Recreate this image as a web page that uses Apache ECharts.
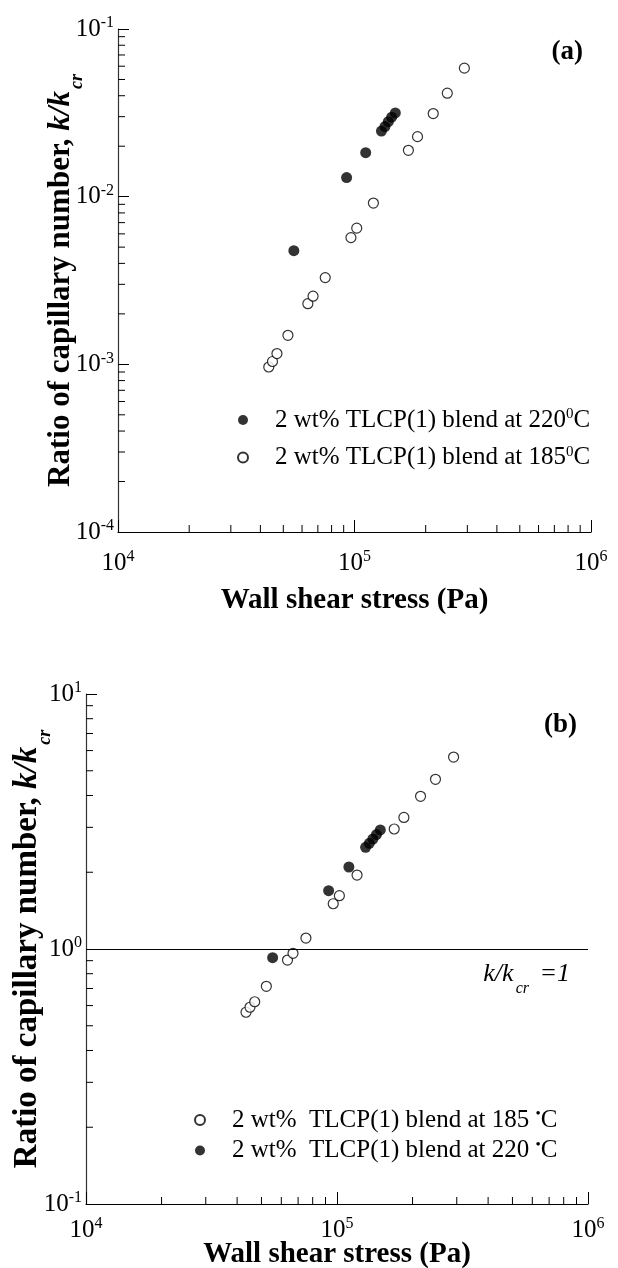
<!DOCTYPE html>
<html>
<head>
<meta charset="utf-8">
<script src="https://cdn.jsdelivr.net/npm/echarts@6/dist/echarts.min.js"></script>
<style>
html,body{margin:0;padding:0;background:#fff;}
#c{width:618px;height:1268px;}
</style>
</head>
<body>
<div id="c"></div>
<script>
// ---- data ----
// wall shear stress (Pa)
const tau185 = [43400, 45000, 47000, 52300, 63500, 66800, 75200, 96600, 102200, 120200, 169000, 184700, 215200, 246800, 291400];
const tau220 = [55400, 92600, 111500, 130000, 134500, 139000, 143600, 148800];
// panel (a): ratio of capillary number
const a185 = [0.000964, 0.00104, 0.00116, 0.00149, 0.00230, 0.00255, 0.00329, 0.00570, 0.00649, 0.00916, 0.0189, 0.0228, 0.0313, 0.0414, 0.0584];
const a220 = [0.00476, 0.0130, 0.0183, 0.0246, 0.0262, 0.0280, 0.0298, 0.0316];
// panel (b): k/k_cr
const b185 = [0.565, 0.591, 0.621, 0.714, 0.905, 0.962, 1.104, 1.505, 1.618, 1.95, 2.955, 3.28, 3.97, 4.63, 5.66];
const b220 = [0.925, 1.694, 2.097, 2.505, 2.597, 2.70, 2.81, 2.93];
// axis ranges / tick decades
const xRange = [1e4, 1e6];
const yRangeA = [1e-4, 1e-1];
const yRangeB = [1e-1, 1e1];
const legendA = ['2 wt% TLCP(1) blend at 220', '2 wt% TLCP(1) blend at 185'];
const legendB = ['2 wt%  TLCP(1) blend at 185', '2 wt%  TLCP(1) blend at 220'];

const FONT = "'Liberation Serif', 'Times New Roman', serif";

function pairs(xs, ys) { return xs.map((x, i) => [x, ys[i]]); }
function minorValues(lo, hi) {
  const out = [];
  for (let d = lo; d < hi * 0.999; d *= 10) {
    for (let k = 2; k <= 9; k++) out.push(+(d * k).toPrecision(6));
  }
  return out;
}

const chart = echarts.init(document.getElementById('c'), null, {renderer: 'canvas'});

const supLabel = v => '{b|10}{s|' + Math.round(Math.log10(v)) + '}';
const labelRich = {
  b: {fontFamily: FONT, fontSize: 25, color: '#000', lineHeight: 28},
  s: {fontFamily: FONT, fontSize: 16, color: '#000', lineHeight: 14, verticalAlign: 'top'}
};

function xAxisCfg(grid, margin, gap) {
  return {
    gridIndex: grid, type: 'log', logBase: 10, min: xRange[0], max: xRange[1],
    axisLine: {show: true, lineStyle: {color: '#000', width: 1.2}},
    axisTick: {show: true, inside: true, length: 12, lineStyle: {color: '#000'}},
    splitLine: {show: false},
    axisLabel: {formatter: supLabel, rich: labelRich, margin: margin},
    name: 'Wall shear stress (Pa)', nameLocation: 'middle', nameGap: gap, nameMoveOverlap: false,
    nameTextStyle: {fontFamily: FONT, fontWeight: 'bold', fontSize: 29, color: '#000'}
  };
}
function yAxisCfg(grid, range, gap, fs) {
  return {
    gridIndex: grid, type: 'log', logBase: 10, min: range[0], max: range[1],
    axisLine: {show: true, lineStyle: {color: '#333', width: 1.2}},
    axisTick: {show: true, inside: true, length: 11, lineStyle: {color: '#000'}},
    splitLine: {show: false},
    axisLabel: {formatter: supLabel, rich: labelRich, margin: 4},
    name: '{t|Ratio of capillary number, }{i|k/k}{u|cr}',
    nameLocation: 'middle', nameGap: gap, nameRotate: 90, nameMoveOverlap: false,
    nameTextStyle: {
      rich: {
        t: {fontFamily: FONT, fontWeight: 'bold', fontSize: fs, color: '#000', lineHeight: fs + 4},
        i: {fontFamily: FONT, fontWeight: 'bold', fontStyle: 'italic', fontSize: fs, color: '#000', lineHeight: fs + 4},
        u: {fontFamily: FONT, fontWeight: 'bold', fontStyle: 'italic', fontSize: 18, color: '#000', lineHeight: 20, verticalAlign: 'bottom', padding: [0, 0, -8, 2]}
      }
    }
  };
}

function tickSeries(xi, yi, data, dir, len) {
  return {
    type: 'custom', xAxisIndex: xi, yAxisIndex: yi, silent: true, z: 5,
    data: data,
    renderItem: function (params, api) {
      const p = api.coord([api.value(0), api.value(1)]);
      const shape = dir === 'x'
        ? {x1: p[0], y1: p[1], x2: p[0], y2: p[1] - len}
        : {x1: p[0], y1: p[1], x2: p[0] + len, y2: p[1]};
      return {type: 'line', shape: shape, style: {stroke: '#000', lineWidth: 1}};
    }
  };
}

const openStyle = {color: '#fff', borderColor: '#000', borderWidth: 1.2};
const fillStyle = {color: '#000', borderColor: '#000', borderWidth: 0};

const names = {
  a220: '{t|' + legendA[0] + '}{s|0}{t|C}',
  a185: '{t|' + legendA[1] + '}{s|0}{t|C}',
  b185: '{t|' + legendB[0] + ' }{s|•}{t|C}',
  b220: '{t|' + legendB[1] + ' }{s|•}{t|C}'
};
const legendRich = {
  t: {fontFamily: FONT, fontSize: 25, color: '#000', lineHeight: 26},
  s: {fontFamily: FONT, fontSize: 15, color: '#000', lineHeight: 12, verticalAlign: 'top'}
};

const option = {
  animation: false,
  backgroundColor: '#fff',
  title: [
    {text: '(a)', right: 30, top: 34, textStyle: {fontFamily: FONT, fontWeight: 'bold', fontSize: 27, color: '#000'}},
    {text: '(b)', right: 36, top: 707, textStyle: {fontFamily: FONT, fontWeight: 'bold', fontSize: 27, color: '#000'}}
  ],
  grid: [
    {left: 118, right: 27, top: 29, height: 503, outerBoundsMode: 'none', containLabel: false},
    {left: 86, right: 30, top: 694, height: 510, outerBoundsMode: 'none', containLabel: false}
  ],
  xAxis: [xAxisCfg(0, 17, 54), xAxisCfg(1, 12, 36)],
  yAxis: [yAxisCfg(0, yRangeA, 40, 31), yAxisCfg(1, yRangeB, 40, 33)],
  legend: [
    {data: ['a220', 'a185'], orient: 'vertical', left: 232, top: 402, itemWidth: 10, itemHeight: 10, itemGap: 12,
     formatter: n => names[n], textStyle: {rich: legendRich, padding: [0, 0, 0, 22]}, selectedMode: false},
    {data: ['b185', 'b220'], orient: 'vertical', left: 189, top: 1102, itemWidth: 10, itemHeight: 10, itemGap: 5,
     formatter: n => names[n], textStyle: {rich: legendRich, padding: [0, 0, 0, 22]}, selectedMode: false}
  ],
  series: [
    {name: 'a220', type: 'scatter', xAxisIndex: 0, yAxisIndex: 0, symbol: 'circle', symbolSize: 11, itemStyle: fillStyle, data: pairs(tau220, a220), z: 3},
    {name: 'a185', type: 'scatter', xAxisIndex: 0, yAxisIndex: 0, symbol: 'circle', symbolSize: 10, itemStyle: openStyle, data: pairs(tau185, a185), z: 3},
    {name: 'b185', type: 'scatter', xAxisIndex: 1, yAxisIndex: 1, symbol: 'circle', symbolSize: 10, itemStyle: openStyle, data: pairs(tau185, b185), z: 3,
     markLine: {silent: true, symbol: 'none', lineStyle: {color: '#000', type: 'solid', width: 1.2},
       data: [{yAxis: 1}],
       label: {show: true, position: 'insideEndBottom', distance: [18, 10],
         formatter: '{i|k/k}{u|cr}{i| =1}',
         rich: {
           i: {fontFamily: FONT, fontStyle: 'italic', fontSize: 26, color: '#000', lineHeight: 30},
           u: {fontFamily: FONT, fontStyle: 'italic', fontSize: 16, color: '#000', lineHeight: 16, verticalAlign: 'bottom', padding: [0, 4, -8, 2]}
         }}}},
    {name: 'b220', type: 'scatter', xAxisIndex: 1, yAxisIndex: 1, symbol: 'circle', symbolSize: 11, itemStyle: fillStyle, data: pairs(tau220, b220), z: 3},
    tickSeries(0, 0, minorValues(xRange[0], xRange[1]).map(v => [v, yRangeA[0]]), 'x', 7),
    tickSeries(0, 0, minorValues(yRangeA[0], yRangeA[1]).map(v => [xRange[0], v]), 'y', 7),
    tickSeries(1, 1, minorValues(xRange[0], xRange[1]).map(v => [v, yRangeB[0]]), 'x', 7),
    tickSeries(1, 1, minorValues(yRangeB[0], yRangeB[1]).map(v => [xRange[0], v]), 'y', 7)
  ]
};
chart.setOption(option);
</script>
</body>
</html>
